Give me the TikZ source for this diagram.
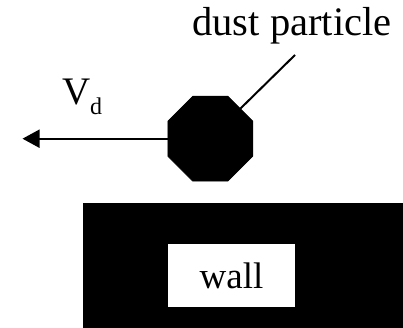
\documentclass[tikz,border=0pt]{standalone}
\usepackage{fontspec}
\setmainfont{Liberation Serif}
\usepackage{tikz}
\usetikzlibrary{arrows.meta, shapes.geometric}

\tikzset{
  label text/.style={inner sep=0pt, font=\fontsize{39}{44}\selectfont},
}

\begin{document}
\begin{tikzpicture}[x=1pt, y=1pt, line width=2pt]
  \useasboundingbox (0,0) rectangle (403,328);

  % Wall
  \fill[black] (83,0) rectangle (403,125);
  \node[fill=white, minimum width=127pt, minimum height=62.5pt, inner sep=0pt, font=\fontsize{37}{40}\selectfont] (wall) at (231.5,52.5) {wall};

  % Dust particle
  \node[regular polygon, regular polygon sides=8, minimum size=92pt, inner sep=0pt, outer sep=0pt, fill=black, draw=black, line width=0.5pt] (dust) at (210.3,189.3) {};

  % Velocity
  \coordinate (tip) at (22.5,189.3);
  \draw[-{Triangle[length=17pt, width=18pt]}] (dust.west) -- (tip);
  \node[label text, anchor=base west] (vd) at (61,223.7) {V\raisebox{-10pt}{\fontsize{24}{24}\selectfont d}};

  % Label
  \coordinate (lead) at (295,273);
  \draw (dust.45) -- (lead);
  \node[label text, anchor=base, font=\fontsize{40.5}{44}\selectfont] (name) at (292,292) {dust particle};
\end{tikzpicture}
\end{document}
